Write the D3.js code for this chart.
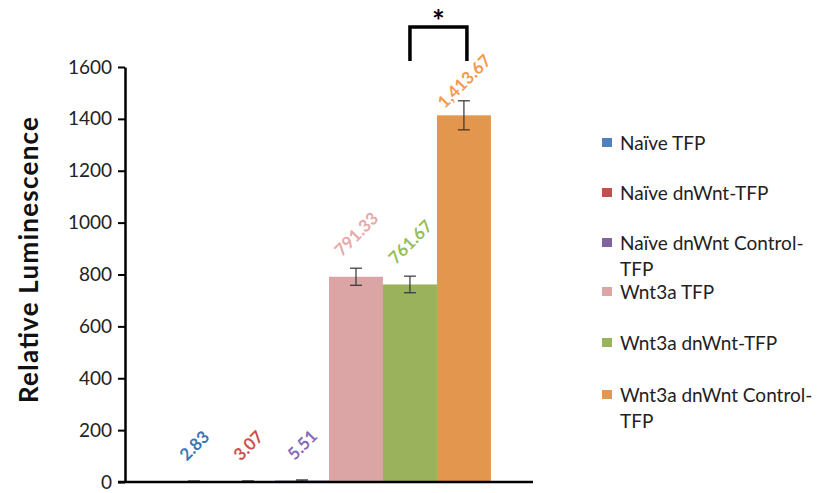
<!DOCTYPE html>
<html>
<head>
<meta charset="utf-8">
<script src="https://cdn.jsdelivr.net/npm/d3@7"></script>
<style>
    body { margin: 0; background: #fff; }
    svg { font-family: Lato, "Open Sans", sans-serif; }
    .lbl { transform-box: fill-box; transform-origin: center; }
</style>
</head>
<body>
<svg id="chart" width="827" height="493"></svg>
<script>
// Data
var series = ['Naïve TFP', 'Naïve dnWnt-TFP', 'Naïve dnWnt Control-TFP',
    'Wnt3a TFP', 'Wnt3a dnWnt-TFP', 'Wnt3a dnWnt Control-TFP'];
var legendLines = [['Naïve TFP'], ['Naïve dnWnt-TFP'], ['Naïve dnWnt Control-', 'TFP'],
    ['Wnt3a TFP'], ['Wnt3a dnWnt-TFP'], ['Wnt3a dnWnt Control-', 'TFP']];
var values = [2.83, 3.07, 5.51, 791.33, 761.67, 1413.67];
var errors = [0.6, 0.7, 2.5, 33, 32, 56];
var labels = ['2.83', '3.07', '5.51', '791.33', '761.67', '1,413.67'];
var yTicks = [0, 200, 400, 600, 800, 1000, 1200, 1400, 1600];
var barColors = ['#4f81bd', '#c0504d', '#8064a2', '#daa5a4', '#9bb25c', '#e3964d'];
var labelColors = ['#3a76b2', '#cf4f4b', '#8a6bb5', '#e7a8a8', '#96c053', '#f6994c'];

var svg = d3.select('#chart');
var margin = {top: 67, left: 125, right: 294, bottom: 11};
var width = 827 - margin.left - margin.right,
    height = 493 - margin.top - margin.bottom;

var g = svg.append('g')
    .attr('transform', 'translate(' + margin.left + ',' + margin.top + ')');

// Scales: one category, Excel style gap width of 150%
var x0 = d3.scaleBand().domain(['']).range([0, width]).paddingOuter(0.13);
var x1 = d3.scaleBand().domain(series).range([0, x0.bandwidth()]);
var y = d3.scaleLinear().domain([0, 1600]).range([height, 0]);

// Bars
g.selectAll('.bar')
    .data(values)
    .enter().append('rect')
    .attr('class', 'bar')
    .attr('x', (d, i) => x0('') + x1(series[i]))
    .attr('y', d => y(d))
    .attr('width', x1.bandwidth())
    .attr('height', d => height - y(d))
    .attr('fill', (d, i) => barColors[i]);

// Error bars
var eb = g.selectAll('.err')
    .data(values)
    .enter().append('g')
    .attr('class', 'err')
    .attr('stroke', '#333')
    .attr('stroke-width', 1.2);
var cx = i => x0('') + x1(series[i]) + x1.bandwidth() / 2;
eb.append('line')
    .attr('x1', (d, i) => cx(i)).attr('x2', (d, i) => cx(i))
    .attr('y1', (d, i) => y(d + errors[i])).attr('y2', (d, i) => y(d - errors[i]));
eb.append('line')
    .attr('x1', (d, i) => cx(i) - 6).attr('x2', (d, i) => cx(i) + 6)
    .attr('y1', (d, i) => y(d + errors[i])).attr('y2', (d, i) => y(d + errors[i]));
eb.append('line')
    .attr('x1', (d, i) => cx(i) - 6).attr('x2', (d, i) => cx(i) + 6)
    .attr('y1', (d, i) => y(d - errors[i])).attr('y2', (d, i) => y(d - errors[i]));

// Axes
var yAxis = g.append('g')
    .call(d3.axisLeft(y).tickValues(yTicks).tickFormat(d3.format('d')).tickSize(7).tickSizeOuter(0));
yAxis.select('.domain').attr('stroke', '#000').attr('stroke-width', 2.5);
yAxis.selectAll('.tick line').attr('stroke', '#000').attr('stroke-width', 2);
yAxis.selectAll('.tick text')
    .attr('x', -13)
    .attr('fill', '#222')
    .style('font-size', '19px')
    .style('font-family', 'Lato, sans-serif');

g.append('line')
    .attr('x1', -7).attr('x2', width)
    .attr('y1', height).attr('y2', height)
    .attr('stroke', '#000').attr('stroke-width', 2.5);

// Axis title
svg.append('text')
    .attr('transform', 'translate(38,' + (margin.top + 193) + ') rotate(-90)')
    .attr('text-anchor', 'middle')
    .attr('textLength', 286)
    .attr('lengthAdjust', 'spacing')
    .style('font-size', '26px')
    .style('font-weight', 'bold')
    .attr('fill', '#111')
    .text('Relative Luminescence');

// Data labels, rotated -45deg above each bar
var measure = g.append('text')
    .style('font-size', '17px').style('font-weight', 'bold');
values.forEach(function (d, i) {
    measure.text(labels[i]);
    var L = measure.node().getComputedTextLength();
    var half = (L + 13) / (2 * Math.SQRT2);
    var c = Math.max(y(d) - 19 - half, -14 + half);
    g.append('text')
        .attr('class', 'lbl')
        .attr('x', cx(i))
        .attr('y', c)
        .attr('text-anchor', 'middle')
        .attr('dy', '0.35em')
        .style('transform', 'rotate(-45deg)')
        .style('font-size', '17px')
        .style('font-weight', 'bold')
        .attr('fill', labelColors[i])
        .text(labels[i]);
});
measure.remove();

// Significance bracket between last two bars
var bx1 = cx(4), bx2 = cx(5) + 3;
g.append('path')
    .attr('d', 'M' + bx1 + ',' + (-6) + 'V' + (-40) + 'H' + bx2 + 'V' + (-6))
    .attr('fill', 'none')
    .attr('stroke', '#000')
    .attr('stroke-width', 3.5);
g.append('text')
    .attr('x', (bx1 + bx2) / 2)
    .attr('y', -35)
    .attr('text-anchor', 'middle')
    .style('font-size', '30px')
    .style('font-weight', 'bold')
    .text('*');

// Legend
var legendY = [143, 193, 243, 292, 343, 395];
var leg = svg.selectAll('.leg')
    .data(legendLines)
    .enter().append('g')
    .attr('class', 'leg')
    .attr('transform', (d, i) => 'translate(602,' + legendY[i] + ')');
leg.append('rect')
    .attr('x', 0).attr('y', -5)
    .attr('width', 10).attr('height', 9)
    .attr('fill', (d, i) => barColors[i]);
leg.each(function (d) {
    var t = d3.select(this).append('text')
        .attr('x', 18)
        .attr('y', 0)
        .attr('fill', '#222')
        .style('font-size', '19px');
    d.forEach((s, k) => {
        t.append('tspan').attr('x', 18).attr('dy', k === 0 ? '0.35em' : 26).text(s);
    });
});
</script>
</body>
</html>
